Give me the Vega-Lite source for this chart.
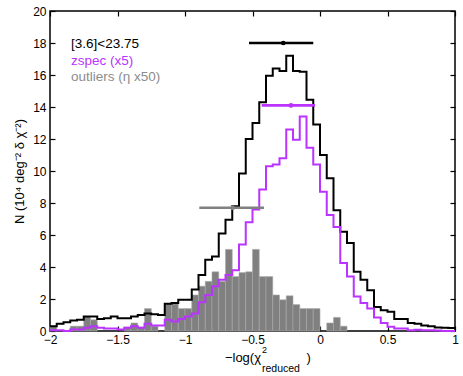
{
  "$schema": "https://vega.github.io/schema/vega-lite/v6.json",
  "width": 405,
  "height": 320,
  "autosize": {"type": "none"},
  "padding": {"left": 50, "top": 11, "right": 8, "bottom": 45},
  "background": "white",
  "config": {
    "view": {"stroke": "black", "strokeWidth": 1.5},
    "font": "Liberation Sans",
    "axis": {
      "domain": false,
      "grid": false,
      "tickColor": "black",
      "tickSize": -5,
      "tickWidth": 1.2,
      "labelFont": "Liberation Sans",
      "labelFontSize": 12,
      "labelColor": "black",
      "titleFont": "Liberation Sans",
      "titleFontSize": 13,
      "titleFontWeight": "normal",
      "titleColor": "black"
    }
  },
  "datasets": {
    "hist": [
      {"x": -2, "x2": -1.95, "b": 0.3, "p": 0.05, "g": 0.3},
      {"x": -1.95, "x2": -1.9, "b": 0.45, "p": 0.05, "g": 0},
      {"x": -1.9, "x2": -1.85, "b": 0.55, "p": 0, "g": 0},
      {"x": -1.85, "x2": -1.8, "b": 0.65, "p": 0.1, "g": 0.3},
      {"x": -1.8, "x2": -1.75, "b": 0.7, "p": 0.1, "g": 0.3},
      {"x": -1.75, "x2": -1.7, "b": 0.9, "p": 0.2, "g": 0.9},
      {"x": -1.7, "x2": -1.65, "b": 0.9, "p": 0.3, "g": 0.7},
      {"x": -1.65, "x2": -1.6, "b": 0.75, "p": 0.2, "g": 0},
      {"x": -1.6, "x2": -1.55, "b": 0.8, "p": 0.15, "g": 0},
      {"x": -1.55, "x2": -1.5, "b": 0.9, "p": 0.15, "g": 0},
      {"x": -1.5, "x2": -1.45, "b": 0.8, "p": 0.1, "g": 0},
      {"x": -1.45, "x2": -1.4, "b": 0.8, "p": 0.2, "g": 0.25},
      {"x": -1.4, "x2": -1.35, "b": 0.9, "p": 0.3, "g": 0.5},
      {"x": -1.35, "x2": -1.3, "b": 1.0, "p": 0.2, "g": 0.25},
      {"x": -1.3, "x2": -1.25, "b": 1.1, "p": 0.45, "g": 1.4},
      {"x": -1.25, "x2": -1.2, "b": 1.05, "p": 0.35, "g": 0.3},
      {"x": -1.2, "x2": -1.15, "b": 1.0, "p": 0.35, "g": 0},
      {"x": -1.15, "x2": -1.1, "b": 1.7, "p": 0.7, "g": 1.7},
      {"x": -1.1, "x2": -1.05, "b": 1.75, "p": 0.6, "g": 1.7},
      {"x": -1.05, "x2": -1.0, "b": 1.95, "p": 0.75, "g": 1.4},
      {"x": -1.0, "x2": -0.95, "b": 1.95, "p": 0.9, "g": 1.4},
      {"x": -0.95, "x2": -0.9, "b": 2.6, "p": 1.1, "g": 2.25},
      {"x": -0.9, "x2": -0.85, "b": 3.5, "p": 1.8, "g": 2.8},
      {"x": -0.85, "x2": -0.8, "b": 4.45, "p": 2.25, "g": 3.1},
      {"x": -0.8, "x2": -0.75, "b": 4.65, "p": 2.8, "g": 3.7},
      {"x": -0.75, "x2": -0.7, "b": 6.1, "p": 3.2, "g": 3.1},
      {"x": -0.7, "x2": -0.65, "b": 6.95, "p": 3.5, "g": 5.1},
      {"x": -0.65, "x2": -0.6, "b": 7.8, "p": 3.8, "g": 3.4},
      {"x": -0.6, "x2": -0.55, "b": 9.85, "p": 5.4, "g": 3.65},
      {"x": -0.55, "x2": -0.5, "b": 12.0, "p": 6.8, "g": 3.7},
      {"x": -0.5, "x2": -0.45, "b": 13.0, "p": 7.6, "g": 5.1},
      {"x": -0.45, "x2": -0.4, "b": 14.3, "p": 8.85, "g": 3.4},
      {"x": -0.4, "x2": -0.35, "b": 15.95, "p": 10.3, "g": 3.4},
      {"x": -0.35, "x2": -0.3, "b": 16.4, "p": 10.4, "g": 2.25},
      {"x": -0.3, "x2": -0.25, "b": 16.25, "p": 10.8, "g": 1.95},
      {"x": -0.25, "x2": -0.2, "b": 17.2, "p": 12.6, "g": 2.2},
      {"x": -0.2, "x2": -0.15, "b": 16.25, "p": 11.95, "g": 1.65},
      {"x": -0.15, "x2": -0.1, "b": 16.2, "p": 13.4, "g": 1.4},
      {"x": -0.1, "x2": -0.05, "b": 14.45, "p": 11.45, "g": 1.4},
      {"x": -0.05, "x2": 0, "b": 12.9, "p": 10.4, "g": 1.4},
      {"x": 0, "x2": 0.05, "b": 11.0, "p": 8.7, "g": 0},
      {"x": 0.05, "x2": 0.1, "b": 9.55, "p": 7.25, "g": 0.5},
      {"x": 0.1, "x2": 0.15, "b": 7.55, "p": 6.5, "g": 0.85},
      {"x": 0.15, "x2": 0.2, "b": 6.2, "p": 4.25, "g": 0.3},
      {"x": 0.2, "x2": 0.25, "b": 5.5, "p": 3.4, "g": 0},
      {"x": 0.25, "x2": 0.3, "b": 3.7, "p": 2.15, "g": 0},
      {"x": 0.3, "x2": 0.35, "b": 3.2, "p": 1.75, "g": 0},
      {"x": 0.35, "x2": 0.4, "b": 2.55, "p": 1.4, "g": 0},
      {"x": 0.4, "x2": 0.45, "b": 1.5, "p": 0.85, "g": 0},
      {"x": 0.45, "x2": 0.5, "b": 1.3, "p": 0.5, "g": 0},
      {"x": 0.5, "x2": 0.55, "b": 1.2, "p": 0.27, "g": 0},
      {"x": 0.55, "x2": 0.6, "b": 0.75, "p": 0.15, "g": 0},
      {"x": 0.6, "x2": 0.65, "b": 0.75, "p": 0.15, "g": 0},
      {"x": 0.65, "x2": 0.7, "b": 0.5, "p": 0.05, "g": 0},
      {"x": 0.7, "x2": 0.75, "b": 0.45, "p": 0.08, "g": 0},
      {"x": 0.75, "x2": 0.8, "b": 0.35, "p": 0.05, "g": 0},
      {"x": 0.8, "x2": 0.85, "b": 0.3, "p": 0.05, "g": 0},
      {"x": 0.85, "x2": 0.9, "b": 0.22, "p": 0.03, "g": 0},
      {"x": 0.9, "x2": 0.95, "b": 0.2, "p": 0, "g": 0},
      {"x": 0.95, "x2": 1.0, "b": 0.18, "p": 0, "g": 0},
      {"x": 1.0, "x2": 1.0, "b": 0.18, "p": 0, "g": 0}
    ],
    "err": [
      {"s": "a", "lo": -0.526, "hi": -0.05, "c": -0.272, "y": 18.0},
      {"s": "b", "lo": -0.432, "hi": -0.037, "c": -0.215, "y": 14.1},
      {"s": "c", "lo": -0.894, "hi": -0.415, "c": -0.647, "y": 7.7}
    ]
  },
  "layer": [
    {
      "data": {"name": "hist"},
      "transform": [{"filter": "datum.g > 0"}],
      "mark": {"type": "rect", "color": "#808080", "stroke": "#a8a8a8", "strokeWidth": 0.6},
      "encoding": {
        "x": {"field": "x", "type": "quantitative", "scale": {"domain": [-2, 1], "nice": false, "zero": false},
              "axis": {"orient": "bottom", "values": [-2, -1.5, -1, -0.5, 0, 0.5, 1], "format": "~g", "title": null, "labelPadding": 8, "labelFlush": false}},
        "x2": {"field": "x2"},
        "y": {"field": "g", "type": "quantitative", "scale": {"domain": [0, 20], "nice": false},
              "axis": {"orient": "left", "values": [0, 2, 4, 6, 8, 10, 12, 14, 16, 18, 20], "title": "N (10⁴ deg⁻² δ χ⁻²)", "labelPadding": 9, "titlePadding": 6, "labelFlush": false}},
        "y2": {"datum": 0}
      }
    },
    {
      "data": {"name": "hist"},
      "mark": {"type": "line", "interpolate": "step-after", "color": "black", "strokeWidth": 2},
      "encoding": {
        "x": {"field": "x", "type": "quantitative", "axis": null},
        "y": {"field": "b", "type": "quantitative", "axis": null}
      }
    },
    {
      "data": {"name": "hist"},
      "mark": {"type": "line", "interpolate": "step-after", "color": "#bb33ff", "strokeWidth": 2},
      "encoding": {
        "x": {"field": "x", "type": "quantitative", "axis": null},
        "y": {"field": "p", "type": "quantitative", "axis": null}
      }
    },
    {
      "data": {"name": "err"},
      "mark": {"type": "rule", "strokeWidth": 2.6},
      "encoding": {
        "x": {"field": "lo", "type": "quantitative",
              "axis": {"orient": "top", "values": [-2, -1.5, -1, -0.5, 0, 0.5, 1], "labels": false, "title": null}},
        "x2": {"field": "hi"},
        "y": {"field": "y", "type": "quantitative",
              "axis": {"orient": "right", "values": [0, 2, 4, 6, 8, 10, 12, 14, 16, 18, 20], "labels": false, "title": null}},
        "color": {"field": "s", "type": "nominal", "scale": {"domain": ["a", "b", "c"], "range": ["#000000", "#bb33ff", "#808080"]}, "legend": null}
      }
    },
    {
      "data": {"name": "err"},
      "mark": {"type": "point", "filled": true, "size": 22, "opacity": 1},
      "encoding": {
        "x": {"field": "c", "type": "quantitative", "axis": null},
        "y": {"field": "y", "type": "quantitative", "axis": null},
        "color": {"field": "s", "type": "nominal", "legend": null}
      }
    },
    {
      "data": {"values": [{}]},
      "mark": {"type": "text", "align": "left", "baseline": "alphabetic", "fontSize": 13.5, "color": "black"},
      "encoding": {
        "x": {"datum": -1.844, "type": "quantitative", "axis": null},
        "y": {"datum": 17.67, "type": "quantitative", "axis": null},
        "text": {"value": "[3.6]<23.75"}
      }
    },
    {
      "data": {"values": [{}]},
      "mark": {"type": "text", "align": "left", "baseline": "alphabetic", "fontSize": 13.5, "color": "#bb33ff"},
      "encoding": {
        "x": {"datum": -1.844, "type": "quantitative", "axis": null},
        "y": {"datum": 16.63, "type": "quantitative", "axis": null},
        "text": {"value": "zspec (x5)"}
      }
    },
    {
      "data": {"values": [{}]},
      "mark": {"type": "text", "align": "left", "baseline": "alphabetic", "fontSize": 13.5, "color": "#8c8c8c"},
      "encoding": {
        "x": {"datum": -1.844, "type": "quantitative", "axis": null},
        "y": {"datum": 15.6, "type": "quantitative", "axis": null},
        "text": {"value": "outliers (η x50)"}
      }
    },
    {
      "data": {"values": [{}]},
      "mark": {"type": "text", "align": "right", "baseline": "alphabetic", "fontSize": 13, "color": "black", "clip": false},
      "encoding": {
        "x": {"datum": -0.437, "type": "quantitative", "axis": null},
        "y": {"datum": -1.95, "type": "quantitative", "axis": null},
        "text": {"value": "−log(χ"}
      }
    },
    {
      "data": {"values": [{}]},
      "mark": {"type": "text", "align": "left", "baseline": "alphabetic", "fontSize": 9, "color": "black", "clip": false},
      "encoding": {
        "x": {"datum": -0.43, "type": "quantitative", "axis": null},
        "y": {"datum": -1.4, "type": "quantitative", "axis": null},
        "text": {"value": "2"}
      }
    },
    {
      "data": {"values": [{}]},
      "mark": {"type": "text", "align": "left", "baseline": "alphabetic", "fontSize": 10.5, "color": "black", "clip": false},
      "encoding": {
        "x": {"datum": -0.43, "type": "quantitative", "axis": null},
        "y": {"datum": -2.55, "type": "quantitative", "axis": null},
        "text": {"value": "reduced"}
      }
    },
    {
      "data": {"values": [{}]},
      "mark": {"type": "text", "align": "left", "baseline": "alphabetic", "fontSize": 13, "color": "black", "clip": false},
      "encoding": {
        "x": {"datum": -0.1, "type": "quantitative", "axis": null},
        "y": {"datum": -1.95, "type": "quantitative", "axis": null},
        "text": {"value": ")"}
      }
    }
  ],
  "resolve": {"axis": {"x": "independent", "y": "independent"}}
}
